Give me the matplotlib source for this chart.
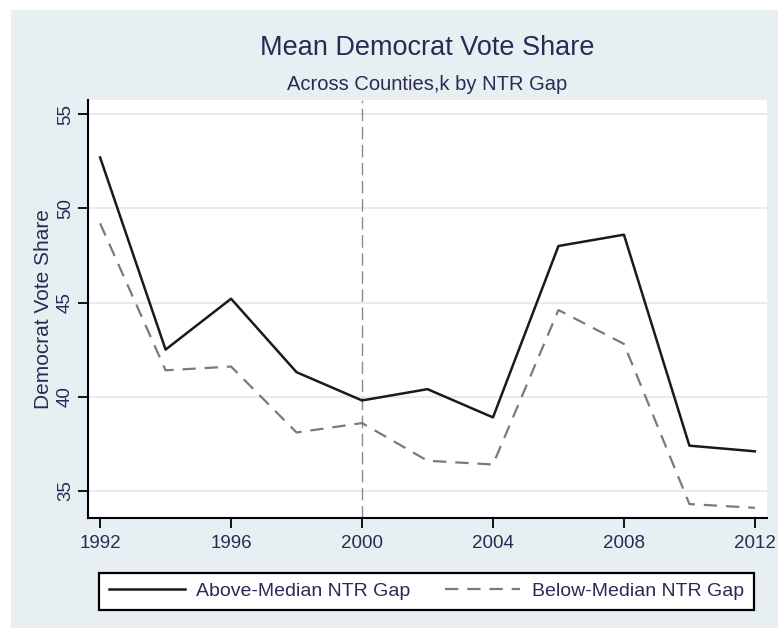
import matplotlib
matplotlib.use("Agg")
import matplotlib.pyplot as plt
from matplotlib import font_manager
from matplotlib.patches import Rectangle

# mean Democrat vote share by election year, split on NTR gap
years = [1992, 1994, 1996, 1998, 2000, 2002, 2004, 2006, 2008, 2010, 2012]
above_median = [52.7, 42.5, 45.2, 41.3, 39.8, 40.4, 38.9, 48.0, 48.6, 37.4, 37.1]
below_median = [49.2, 41.4, 41.6, 38.1, 38.6, 36.6, 36.4, 44.6, 42.8, 34.3, 34.1]
x_ticks = [1992, 1996, 2000, 2004, 2008, 2012]
y_ticks = [35, 40, 45, 50, 55]

bg = "#e7eff2"
ink = "#2a2a55"

# narrow face if one is around
installed = {f.name for f in font_manager.fontManager.ttflist}
face = next((n for n in ["Liberation Sans Narrow", "DejaVu Sans Condensed",
                         "Liberation Sans"] if n in installed), "DejaVu Sans")
plt.rcParams["font.family"] = [face, "DejaVu Sans"]
narrow = face != "Liberation Sans"

fig = plt.figure(figsize=(7.78, 6.3), dpi=100, facecolor="white")
fig.patches.append(Rectangle((11 / 778, 2 / 630), 767 / 778, 618 / 630,
                             transform=fig.transFigure, facecolor=bg,
                             edgecolor="none", zorder=-10))

ax = fig.add_axes([88 / 778, 112 / 630, 679 / 778, 418 / 630])
ax.set_facecolor("white")

for y in y_ticks:
    ax.axhline(y, color="#e3edf1", lw=1.5, zorder=0)
ax.axvline(2000, color="#8a8a8a", lw=1.0, dashes=(9, 4), zorder=1)

ax.plot(years, above_median, color="#1a1a1a", lw=1.8,
        label="Above-Median NTR Gap", zorder=3)
ax.plot(years, below_median, color="#7a7a7a", lw=1.6, dashes=(6, 4),
        label="Below-Median NTR Gap", zorder=3)

ax.set_xlim(1991.63, 2012.37)
ax.set_ylim(33.56, 55.75)
ax.set_xticks(x_ticks)
ax.set_yticks(y_ticks)
tick_size = 15 if narrow else 13.5
ax.tick_params(axis="both", length=7, width=1.3, color="black",
               labelsize=tick_size, labelcolor=ink)
plt.setp(ax.get_yticklabels(), rotation=90, va="center")
ax.tick_params(axis="y", pad=3)
ax.tick_params(axis="x", pad=5)

for side in ["top", "right"]:
    ax.spines[side].set_visible(False)
for side in ["left", "bottom"]:
    ax.spines[side].set_linewidth(1.5)

ax.set_ylabel("Democrat Vote Share", fontsize=16.5 if narrow else 15,
              color=ink, labelpad=3)

fig.text(427 / 778, 1 - 48 / 630, "Mean Democrat Vote Share", ha="center",
         va="center", fontsize=21 if narrow else 19.5, color=ink)
fig.text(427 / 778, 1 - 85 / 630, "Across Counties,k by NTR Gap", ha="center",
         va="center", fontsize=16 if narrow else 14.5, color=ink)

leg = fig.legend(loc="lower left", mode="expand",
                 bbox_to_anchor=(99 / 778, 1 - 610 / 630, 655 / 778, 42 / 630),
                 ncol=2, fontsize=15 if narrow else 14, frameon=True,
                 fancybox=False, edgecolor="black", facecolor="white",
                 framealpha=1, handlelength=3.9, borderpad=0.5,
                 handletextpad=0.6, borderaxespad=0)
leg.get_frame().set_linewidth(1.6)
for t in leg.get_texts():
    t.set_color(ink)

fig.savefig("out.png", dpi=100, facecolor="white")
